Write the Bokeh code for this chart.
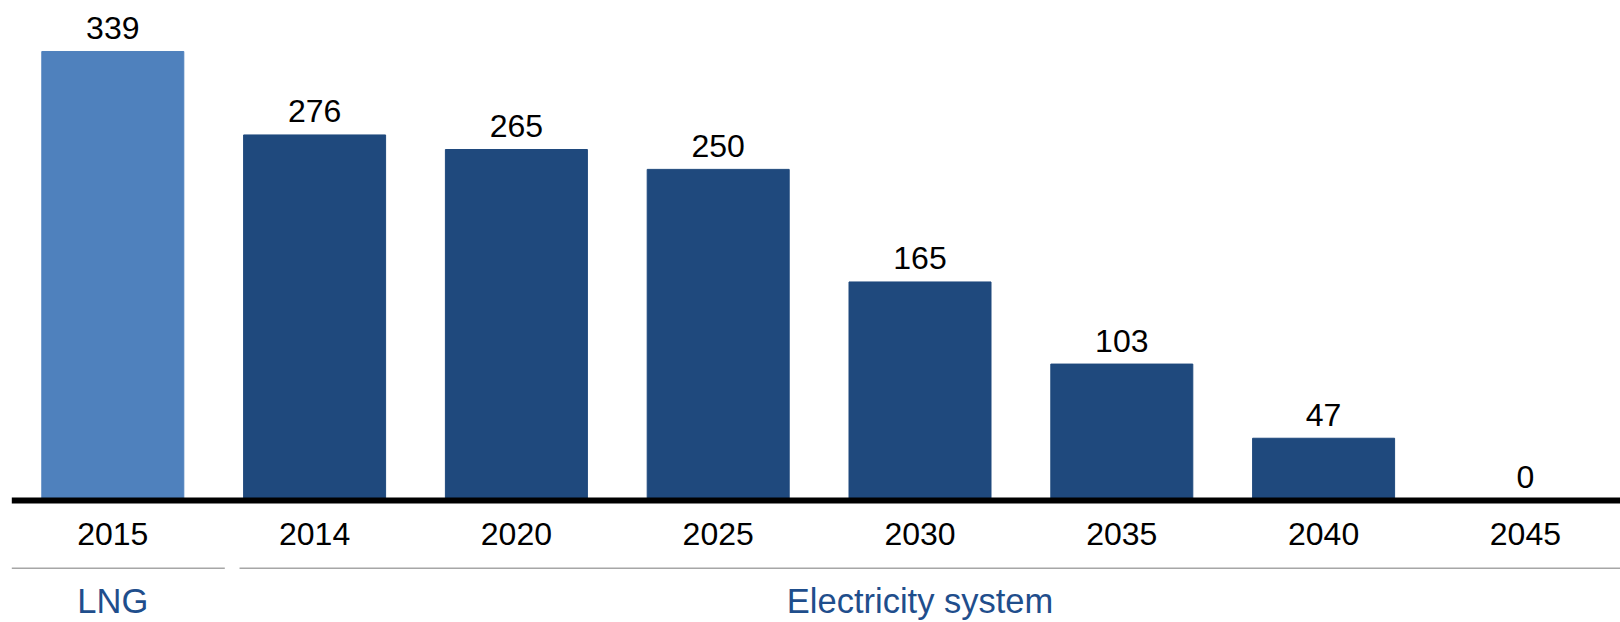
from bokeh.plotting import figure
from bokeh.models import Range1d, ColumnDataSource
from bokeh.core.properties import value
from bokeh.embed import file_html
from bokeh.resources import INLINE

# ---- data ----
years = ["2015", "2014", "2020", "2025", "2030", "2035", "2040", "2045"]
values = [339, 276, 265, 250, 165, 103, 47, 0]
groups = ["LNG", "Electricity system", "Electricity system", "Electricity system",
          "Electricity system", "Electricity system", "Electricity system", "Electricity system"]
group_names = ["LNG", "Electricity system"]
group_first = [0, 1]
group_last = [0, 7]

# ---- styling ----
W, H = 1620, 622
PX_PER_UNIT = 1.3245      # vertical pixels per data unit
ZERO_PX = 500             # pixel row of y = 0
STEP = 201.8              # pixels per category
FIRST_CENTER = 112.3      # pixel x of first category centre
LIGHT = "#4F81BD"
DARK = "#1F497D"
GROUP_COLOR = "#1F4E8C"
FONT = "Liberation Sans"

def py(px):  # pixel row -> data y
    return (ZERO_PX - px) / PX_PER_UNIT

def px_x(px):  # pixel column -> data x
    return (px - FIRST_CENTER) / STEP

x0, x1 = px_x(0), px_x(W)
p = figure(width=W, height=H, output_backend="svg", toolbar_location=None,
           x_range=Range1d(x0, x1), y_range=Range1d(py(H), py(0)),
           min_border=0, min_border_left=0, min_border_right=0,
           min_border_top=0, min_border_bottom=0)
p.axis.visible = False
p.grid.visible = False
p.outline_line_color = None
p.background_fill_color = "white"
p.border_fill_color = "white"

xs = list(range(len(years)))
colors = [LIGHT if g == "LNG" else DARK for g in groups]
src = ColumnDataSource(dict(x=xs, top=values, color=colors))
p.vbar(x="x", top="top", bottom=0, width=142 / STEP, color="color", source=src)

# baseline
p.segment(x0=[px_x(11.3)], y0=[0], x1=[x1 + 1], y1=[0], line_color="black", line_width=6)

# value labels
src_lab = ColumnDataSource(dict(x=xs, y=[v + 23.5 / PX_PER_UNIT for v in values],
                                label=[str(v) for v in values]))
p.text(x="x", y="y", text="label", source=src_lab, text_font=value(FONT),
       text_font_size="32px", text_align="center", text_baseline="middle",
       text_color="black")

# year (category) labels
src_year = ColumnDataSource(dict(x=xs, y=[py(533)] * len(xs), label=years))
p.text(x="x", y="y", text="label", source=src_year, text_font=value(FONT),
       text_font_size="32px", text_align="center", text_baseline="middle",
       text_color="black")

# group separator lines
gx0 = [f - 0.5 + 0.128 for f in group_first]
gx0[0] = px_x(11.3)
gx1 = [l + 0.5 + 0.055 for l in group_last]
gx1[-1] = x1 + 1
p.segment(x0=gx0, y0=[py(567.7)] * 2, x1=gx1, y1=[py(567.7)] * 2,
          line_color="#A6A6A6", line_width=1.5)

# group labels
gcx = [(f + l) / 2 for f, l in zip(group_first, group_last)]
p.text(x=gcx, y=[py(600)] * 2, text=group_names, text_font=value(FONT),
       text_font_size="34.5px", text_align="center", text_baseline="middle",
       text_color=GROUP_COLOR)

open("out.html", "w").write(file_html(p, INLINE))
